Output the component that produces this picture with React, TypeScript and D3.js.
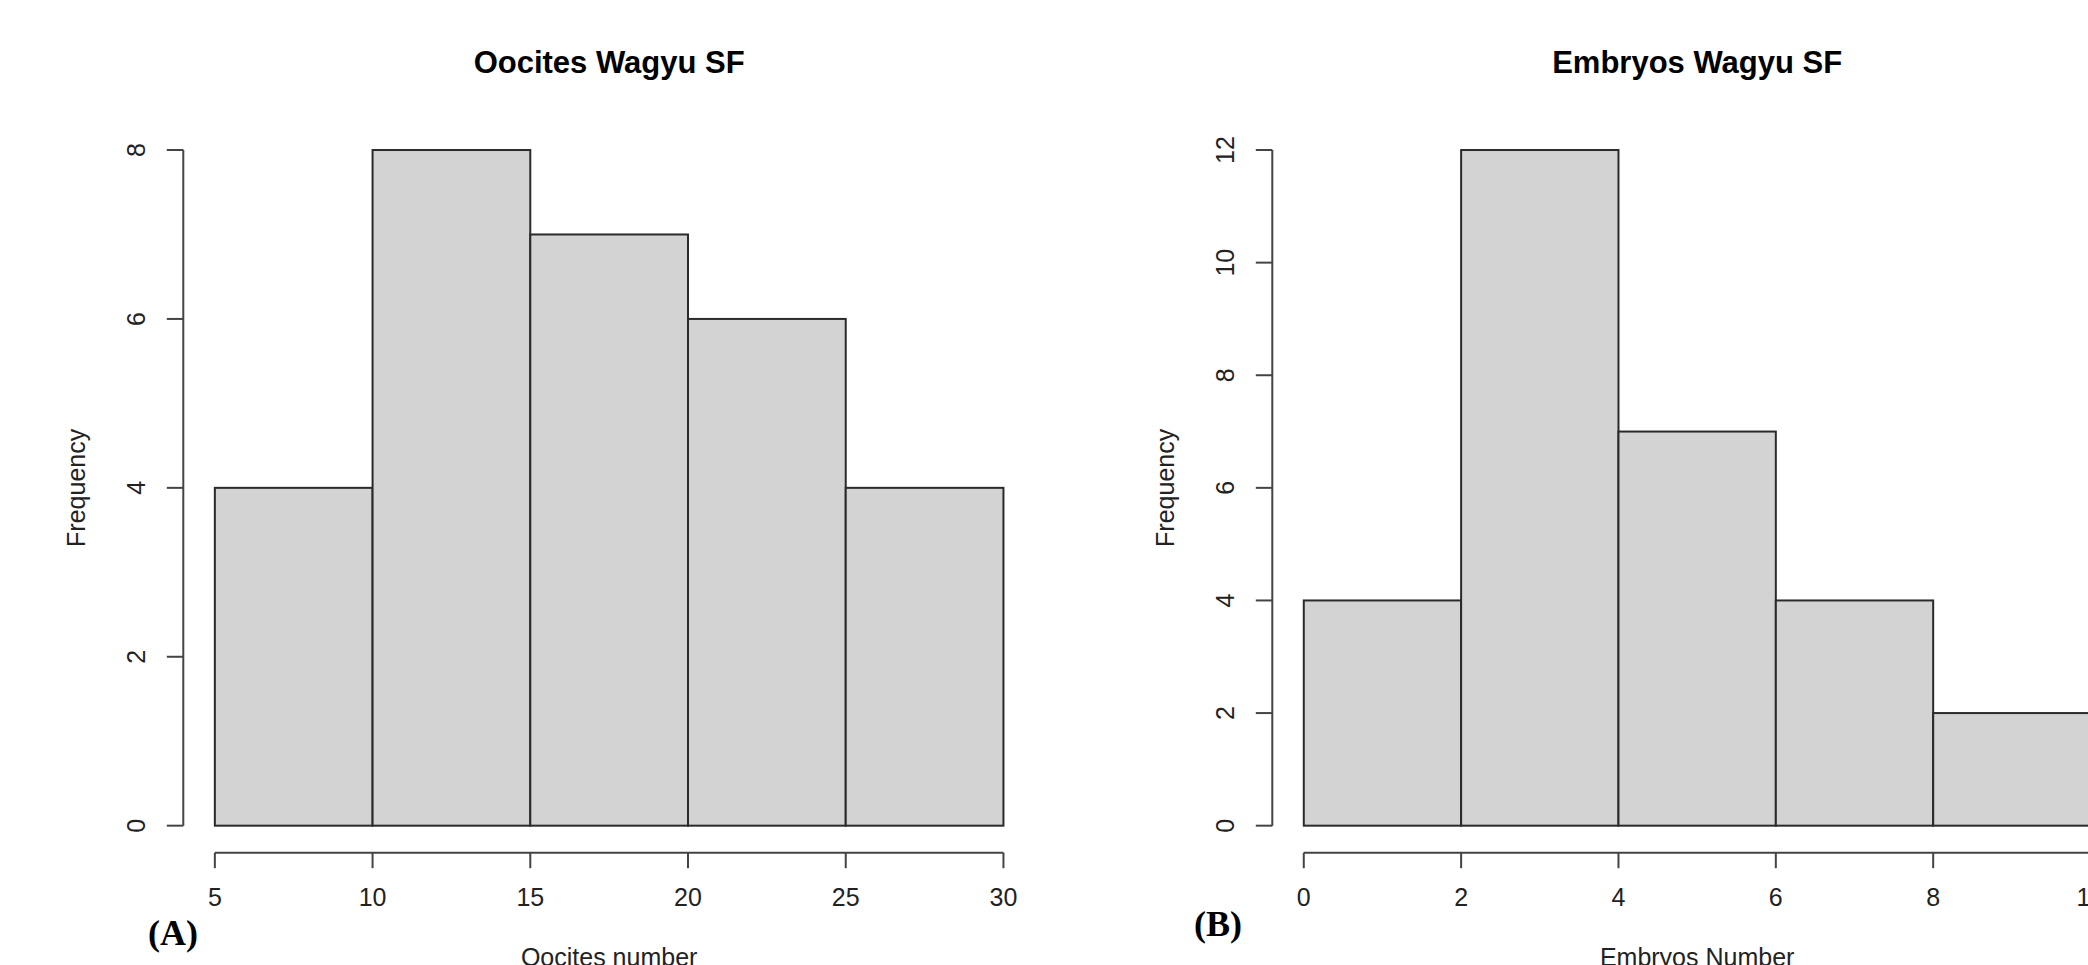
import React from "react";
import * as d3 from "d3";

const oocyteBreaks = [5, 10, 15, 20, 25, 30];
const oocyteCounts = [4, 8, 7, 6, 4];
const oocyteXTicks = [5, 10, 15, 20, 25, 30];
const oocyteYTicks = [0, 2, 4, 6, 8];

const embryoBreaks = [0, 2, 4, 6, 8, 10];
const embryoCounts = [4, 12, 7, 4, 2];
const embryoXTicks = [0, 2, 4, 6, 8, 10];
const embryoYTicks = [0, 2, 4, 6, 8, 10, 12];

const W = 2088;
const H = 965;
const FONT = "'Liberation Sans', Arial, sans-serif";

type PanelProps = {
  breaks: number[];
  counts: number[];
  xTicks: number[];
  yTicks: number[];
  title: string;
  xLabel: string;
  tag: string;
  tagX: number;
  tagY: number;
  left: number;
  right: number;
};

const TOP = 123;
const BOTTOM = 852.7;

function Panel(p: PanelProps) {
  const xMin = p.breaks[0];
  const xMax = p.breaks[p.breaks.length - 1];
  const xExt = (xMax - xMin) * 0.04;
  const yMax = d3.max(p.yTicks) as number;
  const yExt = yMax * 0.04;
  const x = d3.scaleLinear().domain([xMin - xExt, xMax + xExt]).range([p.left, p.right]);
  const y = d3.scaleLinear().domain([-yExt, yMax + yExt]).range([BOTTOM, TOP]);
  const bins = p.counts.map((c, i) => ({ x0: p.breaks[i], x1: p.breaks[i + 1], c }));
  const cx = (p.left + p.right) / 2;
  const axisColor = "#444";
  const yTickLabelX = p.left - 47;
  const yLabelX = p.left - 107;
  return (
    <g>
      <text x={cx} y={73} textAnchor="middle" fontFamily={FONT} fontWeight="bold" fontSize={31} fill="#000">
        {p.title}
      </text>
      {bins.map((b, i) => (
        <rect
          key={i}
          x={x(b.x0)}
          y={y(b.c)}
          width={x(b.x1) - x(b.x0)}
          height={y(0) - y(b.c)}
          fill="#d3d3d3"
          stroke="#2a2a2a"
          strokeWidth={2}
        />
      ))}
      {/* y axis */}
      <line x1={p.left} x2={p.left} y1={y(p.yTicks[0])} y2={y(yMax)} stroke={axisColor} strokeWidth={2} />
      {p.yTicks.map((t) => (
        <g key={t}>
          <line x1={p.left - 16.5} x2={p.left} y1={y(t)} y2={y(t)} stroke={axisColor} strokeWidth={2} />
          <text
            transform={`translate(${yTickLabelX},${y(t)}) rotate(-90)`}
            textAnchor="middle"
            dominantBaseline="central"
            fontFamily={FONT}
            fontSize={25}
            fill="#222"
          >
            {t}
          </text>
        </g>
      ))}
      {/* x axis */}
      <line x1={x(p.xTicks[0])} x2={x(p.xTicks[p.xTicks.length - 1])} y1={BOTTOM} y2={BOTTOM} stroke={axisColor} strokeWidth={2} />
      {p.xTicks.map((t) => (
        <g key={t}>
          <line x1={x(t)} x2={x(t)} y1={BOTTOM} y2={BOTTOM + 15.5} stroke={axisColor} strokeWidth={2} />
          <text x={x(t)} y={906} textAnchor="middle" fontFamily={FONT} fontSize={25} fill="#222">
            {t}
          </text>
        </g>
      ))}
      <text
        transform={`translate(${yLabelX},${(y(0) + y(yMax)) / 2}) rotate(-90)`}
        textAnchor="middle"
        dominantBaseline="central"
        fontFamily={FONT}
        fontSize={25}
        fill="#222"
      >
        Frequency
      </text>
      <text x={cx} y={966} textAnchor="middle" fontFamily={FONT} fontSize={25} fill="#222">
        {p.xLabel}
      </text>
      <text x={p.tagX} y={p.tagY} fontFamily="'Liberation Serif', 'Times New Roman', serif" fontWeight="bold" fontSize={36} fill="#000">
        {p.tag}
      </text>
    </g>
  );
}

export default function App() {
  return (
    <svg
      width={W}
      height={H}
      viewBox={`0 0 ${W} ${H}`}
      style={{ position: "absolute", left: 0, top: 0, background: "#fff" }}
    >
      <rect x={0} y={0} width={W} height={H} fill="#fff" />
      <Panel
        breaks={oocyteBreaks}
        counts={oocyteCounts}
        xTicks={oocyteXTicks}
        yTicks={oocyteYTicks}
        title="Oocites Wagyu SF"
        xLabel="Oocites number"
        tag="(A)"
        tagX={148}
        tagY={945}
        left={183.3}
        right={1035}
      />
      <Panel
        breaks={embryoBreaks}
        counts={embryoCounts}
        xTicks={embryoXTicks}
        yTicks={embryoYTicks}
        title="Embryos Wagyu SF"
        xLabel="Embryos Number"
        tag="(B)"
        tagX={1194}
        tagY={936}
        left={1272.3}
        right={2122}
      />
    </svg>
  );
}
